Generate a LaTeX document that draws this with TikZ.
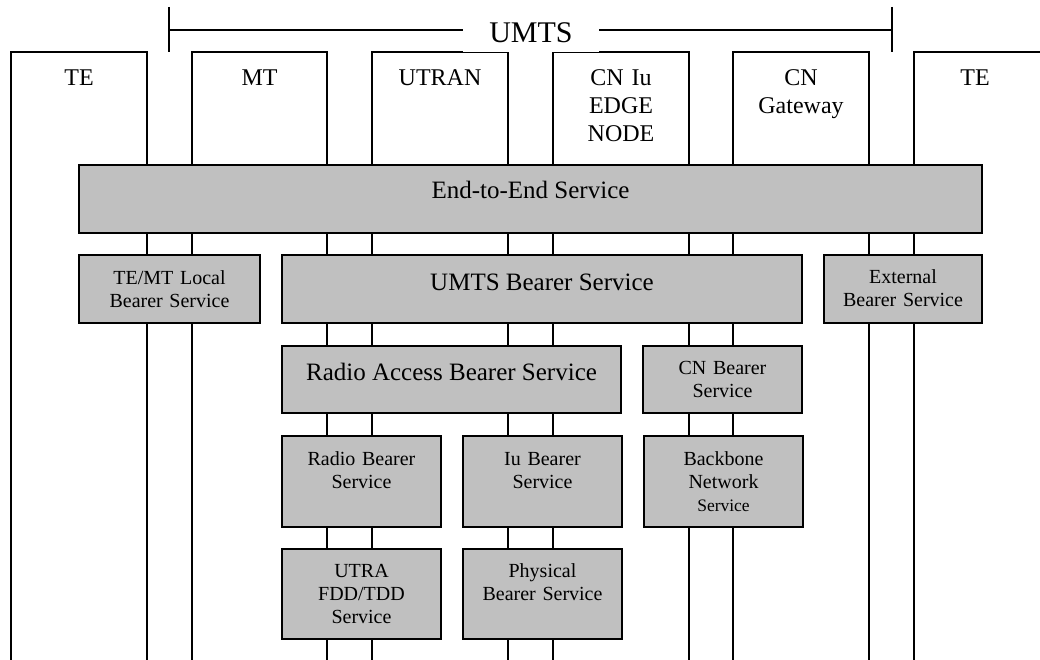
\documentclass[tikz,border=0pt]{standalone}
\usepackage{fontspec}
\setmainfont{Liberation Serif}
\definecolor{svcgray}{HTML}{C0C0C0}
\tikzset{
  rule/.style={line width=1.5pt, black},
  svcbox/.style={draw=black, line width=1.5pt, fill=svcgray, rectangle,
    inner sep=0pt, outer sep=0pt, anchor=north west},
  bigtxt/.style={font=\fontsize{25}{28}\selectfont, inner sep=0pt, anchor=base},
  smalltxt/.style={font=\fontsize{20}{23}\selectfont, inner sep=0pt, anchor=base,
    align=center, text width=156pt},
  coltxt/.style={font=\fontsize{24}{28}\selectfont, inner sep=0pt, anchor=base,
    align=center, text width=134pt},
}
\begin{document}
\begin{tikzpicture}[x=1pt, y=-1pt]
\useasboundingbox (0,0) rectangle (1040,660);

% network elements: open columns running off the bottom edge
\foreach \l/\r in {11/147, 192/327, 372/508, 553/689, 733/869}
  \draw[rule] (\l,661) -- (\l,52) -- (\r,52) -- (\r,661);
\draw[rule] (914,661) -- (914,52) -- (1041,52);

% UMTS span bracket
\node[font=\fontsize{30}{34}\selectfont, fill=white, inner sep=0pt,
  minimum width=136pt, text height=22pt, text depth=9.4pt, anchor=base]
  (umts) at (531,43) {UMTS};
\coordinate (brl) at (169,30);
\coordinate (brr) at (892,30);
\draw[rule] (169,7) -- (169,52);
\draw[rule] (892,7) -- (892,52);
\draw[rule] (brl) -- (brl -| umts.west);
\draw[rule] (brr -| umts.east) -- (brr);

% column titles
\node[coltxt] (te1)  at (79,86)  {TE};
\node[coltxt] (mt)   at (259.5,86) {MT};
\node[coltxt] (utran) at (440,86) {UTRAN};
\node[coltxt] (cniu) at (621,86) {CN Iu\\EDGE\\NODE};
\node[coltxt] (cngw) at (801,86) {CN\\Gateway};
\node[coltxt] (te2)  at (975,86) {TE};

% bearer service boxes
\node[svcbox, minimum width=903pt, minimum height=68pt] (e2e)   at (79,165)  {};
\node[svcbox, minimum width=181pt, minimum height=68pt] (temt)  at (79,255)  {};
\node[svcbox, minimum width=520pt, minimum height=68pt] (umtsb) at (282,255) {};
\node[svcbox, minimum width=158pt, minimum height=68pt] (ext)   at (824,255) {};
\node[svcbox, minimum width=339pt, minimum height=67pt] (rab)   at (282,346) {};
\node[svcbox, minimum width=159pt, minimum height=67pt] (cnb)   at (643,346) {};
\node[svcbox, minimum width=159pt, minimum height=91pt] (rb)    at (282,436) {};
\node[svcbox, minimum width=159pt, minimum height=91pt] (iub)   at (463,436) {};
\node[svcbox, minimum width=159pt, minimum height=91pt] (bbn)   at (644,436) {};
\node[svcbox, minimum width=159pt, minimum height=90pt] (utra)  at (282,549) {};
\node[svcbox, minimum width=159pt, minimum height=90pt] (phy)   at (463,549) {};

% box labels
\node[bigtxt]   (e2e-t)   at (530.5,199) {End-to-End Service};
\node[smalltxt] (temt-t)  at (169.5,284) {TE/MT Local\\Bearer Service};
\node[bigtxt]   (umtsb-t) at (542,290)   {UMTS Bearer Service};
\node[smalltxt] (ext-t)   at (903,283)   {External\\Bearer Service};
\node[bigtxt]   (rab-t)   at (451.5,380) {Radio Access Bearer Service};
\node[smalltxt] (cnb-t)   at (722.5,374) {CN Bearer\\Service};
\node[smalltxt] (rb-t)    at (361.5,465) {Radio Bearer\\Service};
\node[smalltxt] (iub-t)   at (542.5,465) {Iu Bearer\\Service};
\node[smalltxt] (bbn-t)   at (723.5,465) {Backbone\\Network\\\fontsize{17.5}{20}\selectfont Service};
\node[smalltxt] (utra-t)  at (361.5,577) {UTRA\\FDD/TDD\\Service};
\node[smalltxt] (phy-t)   at (542.5,577) {Physical\\Bearer Service};
\end{tikzpicture}
\end{document}
